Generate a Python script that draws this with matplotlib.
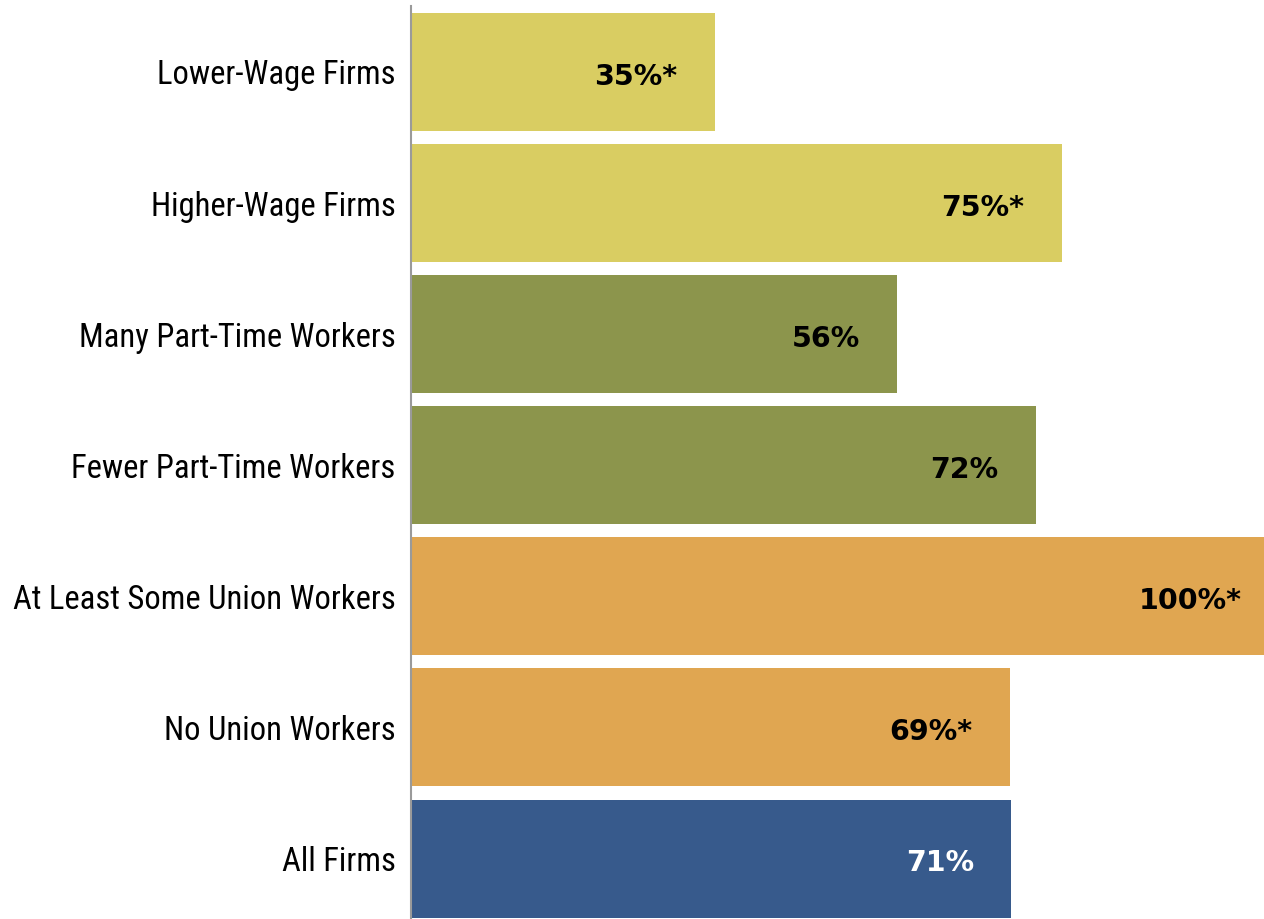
import matplotlib.pyplot as plt

categories = ["Lower-Wage Firms", "Higher-Wage Firms", "Many Part-Time Workers",
              "Fewer Part-Time Workers", "At Least Some Union Workers",
              "No Union Workers", "All Firms"]
# bar lengths as drawn (percent)
values = [35, 75, 56, 72, 100, 69, 69.2]
value_labels = ["35%*", "75%*", "56%", "72%", "100%*", "69%*", "71%"]
colors = ["#D9CD62", "#D9CD62", "#8C954C", "#8C954C", "#E0A651", "#E0A651", "#375A8C"]
label_colors = ["black"] * 6 + ["white"]

fig = plt.figure(figsize=(12.64, 9.19), dpi=100)
ax = fig.add_axes([411 / 1264, 0, 1 - 411 / 1264, 1])

y = list(range(len(categories)))
ax.barh(y, values, height=0.9, color=colors)
ax.set_xlim(0, 98.3)
ax.set_ylim(6.461, -0.549)

for i, (v, lab, c) in enumerate(zip(values, value_labels, label_colors)):
    ax.text(v - 4.3, i + 0.035, lab, ha="right", va="center", color=c,
            fontsize=20.5, fontweight="bold", family=["DejaVu Sans"])

ax.set_yticks(y)
ax.set_yticklabels(categories, fontsize=23.5,
                   family=["Roboto Condensed", "Barlow Semi Condensed", "DejaVu Sans"])
ax.tick_params(axis="y", length=0, pad=11)
ax.set_xticks([])
for s in ["top", "right", "bottom"]:
    ax.spines[s].set_visible(False)
ax.spines["left"].set_color("#9a9a9a")
ax.spines["left"].set_linewidth(1.5)
ax.spines["left"].set_bounds(6.461, -0.5)

fig.savefig("out.png", dpi=100)
